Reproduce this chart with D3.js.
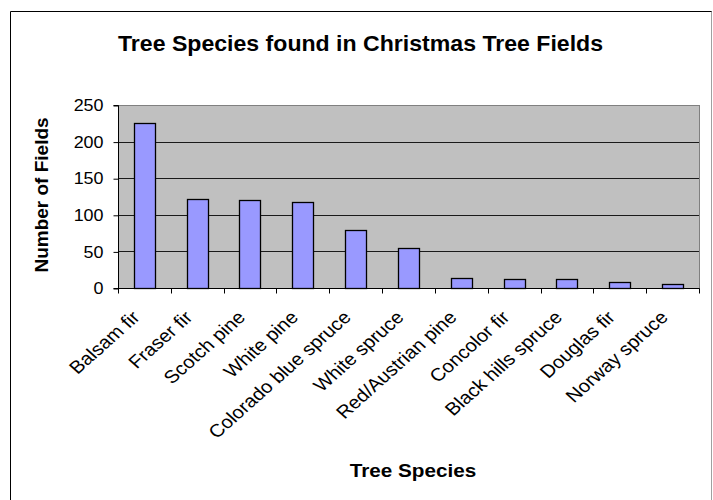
<!DOCTYPE html>
<html>
<head>
<meta charset="utf-8">
<script src="https://cdn.jsdelivr.net/npm/d3@7"></script>
<style>
  html, body { margin: 0; padding: 0; background: #fff; }
  svg { display: block; font-family: "Liberation Sans", Arial, sans-serif; }
</style>
</head>
<body>
<svg id="chart" width="713" height="500"></svg>
<script>
const species = ["Balsam fir", "Fraser fir", "Scotch pine", "White pine", "Colorado blue spruce",
  "White spruce", "Red/Austrian pine", "Concolor fir", "Black hills spruce", "Douglas fir", "Norway spruce"];
const fields = [225, 122, 120, 118, 79, 55, 14, 12, 12, 8, 5];
const yTicks = [0, 50, 100, 150, 200, 250];

const svg = d3.select("#chart");
const plot = { left: 118, right: 699, top: 105, bottom: 288 };
const wide = 1.12; // horizontal stretch of the lettering

// outer frame
svg.append("line").attr("x1", 10.5).attr("x2", 712).attr("y1", 11.5).attr("y2", 11.5).attr("stroke", "#000");
svg.append("line").attr("x1", 10.5).attr("x2", 10.5).attr("y1", 11.5).attr("y2", 500).attr("stroke", "#000");
svg.append("line").attr("x1", 711.5).attr("x2", 711.5).attr("y1", 11.5).attr("y2", 500).attr("stroke", "#a0a0a0");

const x = d3.scaleBand().domain(species).range([plot.left, plot.right]).paddingInner(0.6).paddingOuter(0.3);
const xEdge = d3.scaleLinear().domain([0, species.length]).range([plot.left, plot.right]);
const y = d3.scaleLinear().domain([0, 250]).range([plot.bottom, plot.top]);

// plot area
svg.append("rect").attr("x", plot.left + 0.5).attr("y", plot.top + 0.5)
  .attr("width", plot.right - plot.left).attr("height", plot.bottom - plot.top)
  .attr("fill", "#c0c0c0").attr("stroke", "#808080");

// gridlines
svg.append("g").selectAll("line").data(yTicks.filter(d => d > 0 && d < 250)).join("line")
  .attr("x1", plot.left).attr("x2", plot.right)
  .attr("y1", d => Math.round(y(d)) + 0.5).attr("y2", d => Math.round(y(d)) + 0.5)
  .attr("stroke", "#1a1a1a");

// bars
svg.append("g").selectAll("rect").data(fields).join("rect")
  .attr("x", (d, i) => Math.round(x(species[i])) + 0.5)
  .attr("y", d => Math.round(y(d)) + 0.5)
  .attr("width", Math.round(x.bandwidth()))
  .attr("height", d => Math.round(y(0)) - Math.round(y(d)))
  .attr("fill", "#9999ff").attr("stroke", "#000").attr("stroke-width", 1.3);

// y axis
const yAxis = d3.axisLeft(y).tickValues(yTicks).tickSize(5).tickPadding(4);
const gy = svg.append("g").attr("transform", `translate(${plot.left + 0.5},0.5)`).call(yAxis);
gy.select(".domain").attr("stroke", "#000").attr("d", `M-5,${plot.top}H0V${plot.bottom}`);
gy.selectAll("text").attr("x", null).attr("transform", `translate(-15,0) scale(${wide},1)`)
  .attr("font-size", 16).attr("fill", "#000")
  .attr("font-family", "Liberation Sans, Arial, sans-serif");

// x axis with ticks at category boundaries
const gx = svg.append("g").attr("transform", `translate(0.5,${plot.bottom + 0.5})`);
gx.append("line").attr("x1", plot.left - 5).attr("x2", plot.right).attr("stroke", "#000");
gx.selectAll("line.tk").data(d3.range(species.length + 1)).join("line").attr("class", "tk")
  .attr("x1", d => Math.round(xEdge(d))).attr("x2", d => Math.round(xEdge(d)))
  .attr("y1", 0).attr("y2", 5).attr("stroke", "#000");
gx.selectAll("text").data(species).join("text")
  .attr("transform", d => `translate(${x(d) + x.bandwidth() / 2 - 4},${30}) scale(${wide},1) rotate(-45)`)
  .attr("text-anchor", "end")
  .attr("font-size", 18)
  .text(d => d);

// titles
svg.append("text").attr("transform", `translate(360.5,51) scale(1.05,1)`).attr("text-anchor", "middle")
  .attr("font-size", 22).attr("font-weight", "bold").text("Tree Species found in Christmas Tree Fields");
svg.append("text").attr("transform", `translate(48,195) rotate(-90)`).attr("text-anchor", "middle")
  .attr("font-size", 19).attr("font-weight", "bold").text("Number of Fields");
svg.append("text").attr("transform", `translate(413,477) scale(1.15,1)`).attr("text-anchor", "middle")
  .attr("font-size", 18).attr("font-weight", "bold").text("Tree Species");
</script>
</body>
</html>
